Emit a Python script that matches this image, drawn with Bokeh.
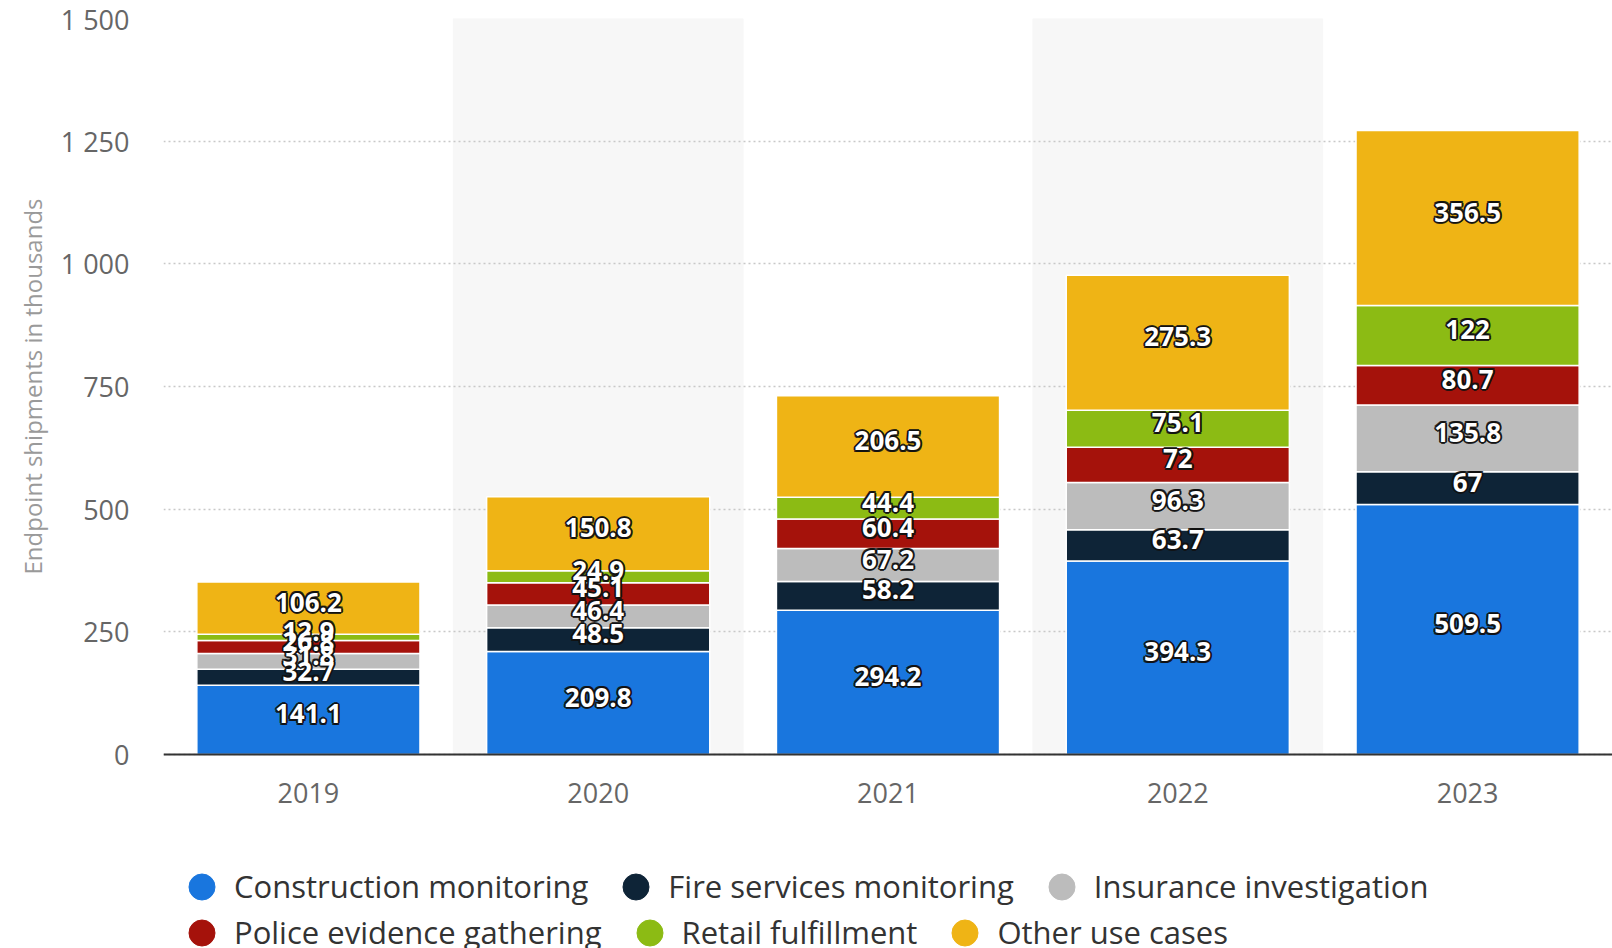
from bokeh.plotting import figure
from bokeh.models import (ColumnDataSource, Legend, LegendItem, Range1d, FactorRange,
                          FixedTicker, Span, Title)
from bokeh.core.properties import value
from bokeh.embed import file_html
from bokeh.resources import INLINE

years = ["2019", "2020", "2021", "2022", "2023"]
construction = [141.1, 209.8, 294.2, 394.3, 509.5]
fire = [32.7, 48.5, 58.2, 63.7, 67]
insurance = [31.8, 46.4, 67.2, 96.3, 135.8]
police = [26.8, 45.1, 60.4, 72, 80.7]
retail = [12.9, 24.9, 44.4, 75.1, 122]
other = [106.2, 150.8, 206.5, 275.3, 356.5]

series_names = ["Construction monitoring", "Fire services monitoring", "Insurance investigation",
                "Police evidence gathering", "Retail fulfillment", "Other use cases"]
series_values = [construction, fire, insurance, police, retail, other]
colors = ["#1976de", "#0e2437", "#bcbcbc", "#a5120b", "#8cbb14", "#efb415"]

y_ticks = [0, 250, 500, 750, 1000, 1250, 1500]
y_tick_labels = ["0", "250", "500", "750", "1 000", "1 250", "1 500"]
y_title = "Endpoint shipments in thousands"

FONT = "Open Sans"

# layout (pixels)
TOP = 18
PLOT_H = 736          # height of the 0..1500 value area
BELOW_H = 194         # space under the value axis for year labels and legend
FRAME_W = 1449
LEFT = 163

y_max = y_ticks[-1]
y_min = -BELOW_H * y_max / PLOT_H

keys = ["s%d" % i for i in range(len(series_names))]
data = {"year": years}
for k, vals in zip(keys, series_values):
    data[k] = vals
src = ColumnDataSource(data)

p = figure(x_range=FactorRange(*years, range_padding=0), y_range=Range1d(y_min, y_max),
           frame_width=FRAME_W, frame_height=PLOT_H + BELOW_H, output_backend="svg",
           toolbar_location=None, x_axis_location=None,
           min_border_left=LEFT, min_border_right=0, min_border_top=TOP, min_border_bottom=0)
p.outline_line_color = None
p.background_fill_color = "white"
p.border_fill_color = "white"

# alternating band shading
p.vbar(x=years[1::2], top=y_max, bottom=0, width=1.0, color="#f7f7f7", level="image")

p.vbar_stack(keys, x="year", width=0.77, color=colors, source=src,
             line_color="white", line_width=1.5)

# value labels
lx, ly, lt = [], [], []
bottoms = [0.0] * len(years)
for vals in series_values:
    for i, v in enumerate(vals):
        lx.append(years[i])
        ly.append(bottoms[i] + v / 2.0)
        lt.append(f"{v:g}")
        bottoms[i] += v
lsrc = ColumnDataSource(dict(x=lx, y=ly, t=lt))
offsets = [(-2, 0), (2, 0), (0, -2), (0, 2), (-1.5, -1.5), (1.5, -1.5), (-1.5, 1.5), (1.5, 1.5)]
for dx, dy in offsets:
    p.text(x="x", y="y", text="t", source=lsrc, x_offset=dx, y_offset=dy - 6,
           text_align="center", text_baseline="middle", text_font=value(FONT),
           text_font_size="26px", text_font_style="bold", text_color="#111111", text_alpha=0.85)
p.text(x="x", y="y", text="t", source=lsrc, x_offset=0, y_offset=-6,
       text_align="center", text_baseline="middle", text_font=value(FONT),
       text_font_size="26px", text_font_style="bold", text_color="white")

# x axis: baseline and category labels
p.add_layout(Span(location=y_ticks[0], dimension="width", line_color="#333333", line_width=2))
p.text(x=years, y=[y_ticks[0]] * len(years), text=years, y_offset=38,
       text_align="center", text_baseline="middle", text_font=value(FONT),
       text_font_size="27px", text_color="#666666")

# y axis
p.yaxis.ticker = FixedTicker(ticks=y_ticks)
p.yaxis.major_label_overrides = {t: l for t, l in zip(y_ticks, y_tick_labels)}
p.yaxis.axis_line_color = None
p.yaxis.major_tick_line_color = None
p.yaxis.minor_tick_line_color = None
p.yaxis.major_tick_out = 0
p.yaxis.major_tick_in = 0
p.yaxis.major_label_standoff = 34
p.yaxis.major_label_text_font = FONT
p.yaxis.major_label_text_font_size = "27px"
p.yaxis.major_label_text_color = "#666666"

# y title, placed along the 0..1500 area (offset measured from the frame bottom)
p.add_layout(Title(text=y_title, align="left", offset=374, standoff=17,
                   text_font=FONT, text_font_size="24px", text_font_style="normal",
                   text_color="#9a9a9a"), "left")

p.xgrid.grid_line_color = None
p.ygrid.ticker = FixedTicker(ticks=y_ticks)
p.ygrid.grid_line_color = "#c8c8c8"
p.ygrid.grid_line_dash = "2 3"
p.ygrid.grid_line_width = 1.5

# legend (two rows, flow layout)
def dummy(c):
    return p.scatter(x=[years[0]], y=[float("nan")], marker="circle", size=10,
                     fill_color=c, line_color=c, line_width=1)

dummies = [dummy(c) for c in colors]

def make_legend(idx, vy):
    items = [LegendItem(label=series_names[i], renderers=[dummies[i]]) for i in idx]
    return Legend(items=items, location=(6, vy), orientation="horizontal",
                  glyph_width=65, glyph_height=65, label_standoff=0, spacing=15,
                  padding=0, margin=0, border_line_color=None,
                  background_fill_alpha=0, label_text_font=FONT,
                  label_text_font_size="31px", label_text_color="#333333")

p.add_layout(make_legend([0, 1, 2], 29.5))
p.add_layout(make_legend([3, 4, 5], -16.5))

open("out.html", "w").write(file_html(p, INLINE))
